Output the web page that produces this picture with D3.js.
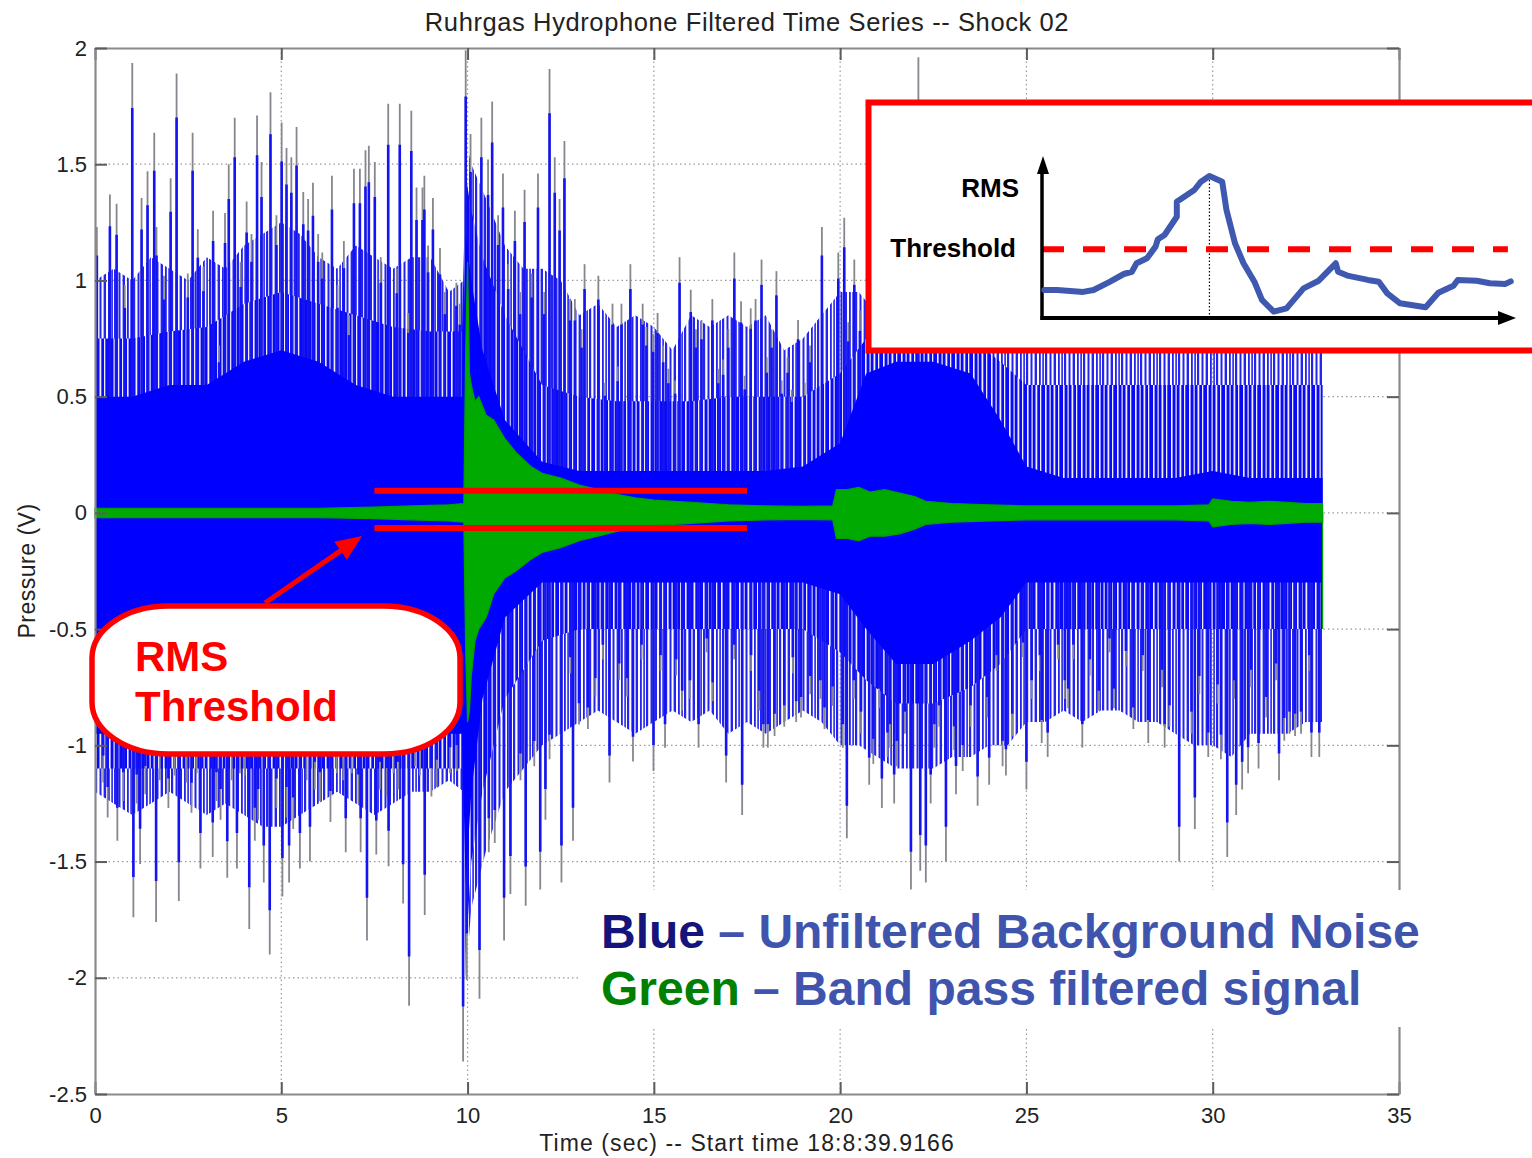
<!DOCTYPE html>
<html>
<head>
<meta charset="utf-8">
<script src="https://cdn.jsdelivr.net/npm/d3@7"></script>
<style>
  body { margin: 0; background: #fff; }
  svg { display: block; font-family: "Liberation Sans", Arial, Helvetica, sans-serif; }
</style>
</head>
<body>
<div id="chart"></div>
<script>
// ---- axis ticks ----
const xTicks = [0, 5, 10, 15, 20, 25, 30, 35];
const yTicks = [-2.5, -2, -1.5, -1, -0.5, 0, 0.5, 1, 1.5, 2];

// ---- unfiltered signal envelopes ----
const envTime = [0, 1, 2, 3, 4, 5, 6, 7, 8, 9, 9.85, 9.95, 10.1, 10.4, 11, 12, 13, 14, 15, 16, 17, 18, 19, 20, 20.7, 21.5, 22.5, 23.5, 24.3, 25, 26, 27, 28, 29, 30, 31, 32, 32.95];
const solidHi = [0.5, 0.5, 0.55, 0.55, 0.65, 0.7, 0.65, 0.55, 0.5, 0.5, 0.5, 1.2, 1.0, 0.7, 0.4, 0.22, 0.18, 0.18, 0.18, 0.18, 0.18, 0.18, 0.2, 0.3, 0.6, 0.65, 0.65, 0.6, 0.4, 0.2, 0.15, 0.15, 0.15, 0.15, 0.18, 0.15, 0.15, 0.15];
const midHi   = [0.75, 0.75, 0.78, 0.8, 0.9, 0.95, 0.9, 0.85, 0.8, 0.78, 0.78, 1.45, 1.3, 1.1, 0.85, 0.55, 0.5, 0.48, 0.48, 0.48, 0.5, 0.5, 0.5, 0.6, 0.75, 0.75, 0.75, 0.75, 0.65, 0.55, 0.55, 0.55, 0.55, 0.55, 0.55, 0.55, 0.55, 0.55];
const solidLo = [-0.95, -0.95, -0.95, -0.95, -0.95, -0.95, -0.95, -0.95, -0.95, -0.95, -0.95, -1.6, -1.2, -0.8, -0.45, -0.3, -0.3, -0.3, -0.3, -0.3, -0.3, -0.3, -0.3, -0.35, -0.5, -0.65, -0.65, -0.55, -0.45, -0.3, -0.3, -0.3, -0.3, -0.3, -0.3, -0.3, -0.3, -0.3];
const midLo   = [-1.1, -1.1, -1.1, -1.1, -1.1, -1.1, -1.1, -1.1, -1.1, -1.1, -1.1, -1.9, -1.5, -1.2, -0.8, -0.55, -0.5, -0.5, -0.5, -0.5, -0.5, -0.5, -0.5, -0.6, -0.72, -0.82, -0.82, -0.75, -0.65, -0.5, -0.5, -0.5, -0.5, -0.5, -0.5, -0.5, -0.5, -0.5];

// outer reach of the looser spike forest, every half second
const outerTime = [0, 0.5, 1, 1.5, 2, 2.5, 3, 3.5, 4, 4.5, 5, 5.5, 6, 6.5, 7, 7.5, 8, 8.5, 9, 9.5, 9.9, 9.95, 10.1, 10.5, 11, 11.5, 12, 12.5, 13, 13.5, 14, 14.5, 15, 15.5, 16, 16.5, 17, 17.5, 18, 18.5, 19, 19.5, 20, 20.5, 21, 21.5, 22, 22.5, 23, 23.5, 24, 24.5, 25, 25.5, 26, 26.5, 27, 27.5, 28, 28.5, 29, 29.5, 30, 30.5, 31, 31.5, 32, 32.5, 32.95];
const outerHi = [1.0, 1.05, 1.0, 1.1, 1.05, 1.0, 1.1, 1.05, 1.15, 1.2, 1.25, 1.2, 1.1, 1.05, 1.15, 1.1, 1.05, 1.1, 1.1, 0.95, 1.0, 1.6, 1.5, 1.35, 1.15, 1.05, 1.05, 1.0, 0.85, 0.9, 0.8, 0.85, 0.8, 0.7, 0.85, 0.8, 0.85, 0.8, 0.85, 0.7, 0.75, 0.85, 0.95, 0.95, 0.85, 0.85, 0.85, 0.85, 0.85, 0.85, 0.85, 0.85, 0.85, 0.85, 0.85, 0.85, 0.85, 0.85, 0.85, 0.85, 0.85, 0.85, 0.85, 0.85, 0.85, 0.85, 0.85, 0.85, 0.85];
const outerLo = [-1.2, -1.25, -1.3, -1.25, -1.2, -1.25, -1.3, -1.25, -1.3, -1.35, -1.35, -1.3, -1.25, -1.2, -1.25, -1.3, -1.25, -1.2, -1.2, -1.15, -1.2, -2.0, -1.7, -1.45, -1.2, -1.1, -1.0, -0.95, -0.9, -0.85, -0.9, -0.95, -0.9, -0.85, -0.9, -0.85, -0.95, -0.9, -0.95, -0.9, -0.85, -0.9, -1.0, -1.0, -1.05, -1.1, -1.1, -1.1, -1.05, -1.05, -1.0, -1.0, -0.9, -0.9, -0.85, -0.9, -0.85, -0.85, -0.9, -0.9, -0.95, -1.0, -1.0, -1.05, -0.95, -0.95, -0.95, -0.9, -0.9];

// ---- individual spikes of the unfiltered signal ----
const upSpikeTime  = [0.05, 0.4, 0.58, 0.8, 1.0, 1.25, 1.41, 1.59, 1.65, 1.85, 2.03, 2.19, 2.49, 2.62, 2.76, 2.91, 3.17, 3.33, 3.49, 3.59, 3.75, 3.91, 4.07, 4.20, 4.35, 4.47, 4.71, 4.87, 5.01, 5.14, 5.27, 5.41, 5.59, 5.72, 5.85, 5.99, 6.10, 6.36, 6.51, 6.68, 6.82, 6.95, 7.11, 7.26, 7.35, 7.51, 7.67, 7.87, 8.10, 8.18, 8.41, 8.49, 8.63, 8.79, 8.84, 8.94, 9.07, 9.26, 9.39, 9.70, 9.79, 9.95, 10.08, 10.37, 10.55, 10.66, 10.82, 10.95, 11.09, 11.27, 11.41, 11.53, 11.72, 11.89, 12.06, 12.20, 12.34, 12.47, 12.60, 12.75, 12.88, 13.06, 13.14, 13.51, 13.69, 13.89, 14.03, 14.13, 14.37, 14.70, 14.80, 14.98, 15.10, 15.25, 15.39, 15.57, 15.69, 15.99, 16.13, 16.28, 16.57, 16.73, 16.86, 17.00, 17.16, 17.34, 17.44, 17.60, 17.73, 17.89, 18.03, 18.16, 18.29, 18.43, 18.59, 18.70, 18.87, 19.05, 19.19, 19.51, 19.95, 20.11, 20.22, 20.38, 20.53, 22.10];
const upSpikeValue = [1.23, 1.37, 1.33, 0.98, 1.935, 1.355, 1.47, 1.635, 1.23, 1.02, 1.44, 1.89, 1.03, 1.635, 1.22, 1.06, 1.30, 0.72, 1.29, 1.50, 1.70, 1.08, 1.34, 1.20, 1.71, 1.51, 1.81, 1.28, 1.68, 1.57, 1.53, 1.66, 1.38, 1.35, 1.42, 1.20, 1.12, 1.45, 0.98, 1.17, 0.85, 1.48, 1.48, 1.56, 1.58, 1.51, 1.10, 1.76, 1.05, 1.76, 0.86, 1.73, 1.40, 1.40, 1.45, 1.15, 1.355, 1.14, 0.95, 0.99, 0.90, 1.99, 1.63, 1.70, 1.52, 1.77, 1.28, 1.46, 1.07, 1.30, 0.95, 1.39, 1.03, 1.46, 0.95, 1.91, 1.53, 1.35, 1.60, 0.92, 0.92, 0.79, 1.07, 1.02, 0.56, 0.90, 0.63, 0.90, 1.07, 0.90, 0.80, 0.77, 0.86, 0.72, 0.62, 0.57, 1.10, 0.96, 0.79, 0.83, 0.92, 0.62, 0.66, 0.79, 1.12, 0.91, 0.59, 0.88, 0.92, 1.09, 0.67, 0.79, 1.04, 0.57, 0.67, 0.53, 0.83, 0.56, 0.72, 1.23, 1.12, 1.27, 0.82, 1.09, 0.87, 1.96];
const downSpikeTime  = [0.22, 0.34, 0.6, 0.76, 1.03, 1.12, 1.21, 1.35, 1.64, 1.74, 1.97, 2.14, 2.25, 2.46, 2.59, 2.73, 2.83, 3.16, 3.26, 3.37, 3.55, 3.67, 3.81, 3.89, 4.02, 4.14, 4.29, 4.38, 4.53, 4.69, 4.87, 5.03, 5.14, 5.21, 5.32, 5.50, 5.68, 5.77, 5.90, 6.04, 6.32, 6.49, 6.66, 6.73, 6.89, 7.07, 7.13, 7.30, 7.55, 7.65, 7.83, 7.88, 8.01, 8.14, 8.27, 8.43, 8.59, 8.72, 8.85, 9.03, 9.17, 9.53, 9.71, 9.88, 9.98, 10.32, 10.57, 10.73, 10.98, 11.15, 11.42, 11.56, 11.79, 11.95, 12.09, 12.20, 12.52, 12.76, 12.83, 12.99, 13.23, 13.43, 13.63, 13.81, 14.07, 14.28, 14.44, 14.67, 14.99, 15.18, 15.30, 15.60, 15.76, 15.97, 16.20, 16.42, 16.58, 16.94, 17.16, 17.37, 17.61, 17.83, 17.94, 18.06, 18.24, 18.50, 18.73, 18.82, 18.95, 19.20, 19.47, 19.58, 19.80, 20.07, 20.18, 20.37, 20.56, 20.78, 20.89, 21.05, 21.12, 21.27, 21.34, 21.45, 21.52, 21.74, 21.90, 22.15, 22.30, 22.43, 22.53, 22.66, 22.84, 23.06, 23.11, 23.29, 23.50, 23.69, 23.95, 24.00, 24.20, 24.36, 24.45, 24.62, 24.91, 25.0, 25.14, 25.36, 25.41, 25.57, 25.85, 26.03, 26.12, 26.26, 26.50, 26.70, 26.94, 27.23, 27.35, 27.67, 27.87, 28.12, 28.27, 28.64, 28.71, 28.84, 29.10, 29.43, 29.52, 29.64, 29.88, 30.13, 30.22, 30.39, 30.58, 30.63, 30.79, 30.95, 31.03, 31.23, 31.44, 31.70, 31.78, 31.92, 32.06, 32.21, 32.37, 32.59, 32.65, 32.86];
const downSpikeValue = [-1.16, -1.31, -1.41, -1.24, -1.74, -1.25, -1.51, -1.21, -1.76, -1.15, -1.27, -1.13, -1.67, -1.16, -1.29, -1.12, -1.53, -1.48, -1.24, -1.32, -1.57, -1.15, -1.53, -1.12, -1.13, -1.79, -1.41, -1.32, -1.59, -1.90, -1.27, -1.65, -1.31, -1.59, -1.36, -1.53, -1.15, -1.50, -1.19, -1.24, -1.33, -1.12, -1.15, -1.46, -1.12, -1.25, -1.46, -1.84, -1.47, -1.19, -1.22, -1.52, -1.12, -1.19, -1.68, -2.12, -1.09, -1.13, -1.73, -1.22, -1.18, -1.12, -1.11, -2.36, -2.01, -2.09, -1.46, -1.42, -1.84, -1.64, -1.15, -1.69, -1.09, -1.62, -1.32, -1.06, -1.59, -0.69, -1.41, -0.91, -0.93, -0.79, -0.63, -1.16, -0.72, -0.79, -1.07, -0.63, -1.11, -0.68, -1.01, -0.70, -0.85, -0.80, -1.01, -0.60, -0.81, -1.16, -0.63, -1.30, -0.68, -0.85, -1.01, -1.01, -0.96, -0.92, -0.69, -0.90, -0.88, -0.78, -0.80, -0.93, -0.83, -1.01, -1.40, -0.80, -0.95, -1.17, -1.08, -0.84, -1.27, -1.05, -1.01, -1.25, -1.09, -0.95, -1.62, -1.54, -1.59, -1.25, -1.01, -0.92, -1.50, -1.02, -1.21, -1.11, -0.92, -1.26, -0.88, -1.17, -0.68, -1.09, -1.13, -0.96, -0.62, -1.19, -0.80, -0.68, -0.99, -1.05, -0.63, -0.80, -0.84, -0.63, -1.01, -0.70, -0.85, -0.60, -0.84, -0.66, -0.93, -0.68, -0.99, -0.75, -1.01, -0.92, -1.50, -0.95, -1.36, -0.78, -1.05, -0.82, -1.06, -1.48, -0.80, -1.30, -1.19, -1.12, -0.75, -1.10, -0.88, -0.72, -1.15, -0.98, -0.95, -0.96, -0.95, -0.68, -1.05, -1.05];

// ---- band pass filtered signal envelope ----
const greenTime = [0, 2, 4, 6, 7.5, 8.5, 9.5, 9.9, 9.95, 10.0, 10.05, 10.1, 10.2, 10.3, 10.5, 10.7, 11.0, 11.3, 11.7, 12.0, 12.5, 13.0, 13.5, 14.0, 14.5, 15, 16, 17, 18, 19, 19.8, 19.9, 20.2, 20.5, 20.8, 21.2, 21.6, 22.0, 22.3, 23, 24, 25, 26, 27, 28, 29, 29.9, 30.0, 30.5, 31, 31.5, 32, 32.5, 32.95];
const greenHi   = [0.02, 0.02, 0.02, 0.02, 0.025, 0.03, 0.035, 0.04, 0.7, 1.08, 0.6, 0.55, 0.48, 0.5, 0.42, 0.4, 0.32, 0.26, 0.2, 0.17, 0.15, 0.12, 0.1, 0.08, 0.065, 0.055, 0.045, 0.035, 0.03, 0.028, 0.03, 0.1, 0.1, 0.11, 0.09, 0.1, 0.085, 0.07, 0.05, 0.04, 0.035, 0.03, 0.03, 0.03, 0.03, 0.03, 0.035, 0.06, 0.05, 0.045, 0.05, 0.045, 0.04, 0.04];
const greenLo   = [-0.02, -0.02, -0.02, -0.02, -0.025, -0.03, -0.035, -0.04, -0.6, -0.9, -0.85, -0.7, -0.55, -0.5, -0.45, -0.35, -0.28, -0.25, -0.2, -0.17, -0.15, -0.12, -0.1, -0.08, -0.065, -0.055, -0.045, -0.035, -0.03, -0.028, -0.03, -0.11, -0.11, -0.12, -0.1, -0.1, -0.09, -0.07, -0.05, -0.04, -0.035, -0.03, -0.03, -0.03, -0.03, -0.03, -0.035, -0.06, -0.05, -0.045, -0.05, -0.045, -0.04, -0.04];
const greenTailTime = 32.95;
const greenTailValue = -0.5;

// ---- RMS threshold marks ----
const thresholdHi = 0.095;
const thresholdLo = -0.065;
const thresholdStart = 7.5;
const thresholdEnd = 17.5;

// ---- inset: sketch of RMS curve ----
const rmsX = [0.5, 3.2, 8.7, 10.9, 14.1, 17.3, 19.0, 20.0, 22.2, 24.0, 24.5, 25.9, 28.5, 28.5, 32.2, 33.6, 35.4, 38.1, 39.0, 40.8, 42.6, 44.9, 46.5, 49.0, 51.7, 55.3, 58.5, 62.1, 62.6, 64.8, 68.9, 71.2, 73.0, 75.7, 81.1, 83.8, 87.0, 87.9, 91.9, 94.7, 97.9, 99.1];
const rmsY = [0.175, 0.175, 0.163, 0.175, 0.223, 0.275, 0.289, 0.342, 0.373, 0.446, 0.492, 0.519, 0.633, 0.727, 0.8, 0.852, 0.888, 0.852, 0.675, 0.467, 0.342, 0.227, 0.113, 0.04, 0.06, 0.185, 0.233, 0.342, 0.289, 0.263, 0.238, 0.227, 0.154, 0.092, 0.067, 0.158, 0.202, 0.238, 0.233, 0.217, 0.213, 0.229];
const rmsThreshold = 0.43;
const rmsPeakX = 35.4;

// ---- texts ----
const titleText = 'Ruhrgas Hydrophone Filtered Time Series -- Shock 02';
const xLabelText = 'Time (sec) -- Start time 18:8:39.9166';
const yLabelText = 'Pressure (V)';

const W = 1532, H = 1158;
const plot = { left: 95, right: 1399, top: 48, bottom: 1094 };

const svg = d3.select('#chart').append('svg').attr('width', W).attr('height', H);

const x = d3.scaleLinear().domain([0, 35]).range([plot.left, plot.right]);
const y = d3.scaleLinear().domain([-2.5, 2]).range([plot.bottom, plot.top]);

// textures for the dense trace: close stripes near the core, looser ones further out
const defs = svg.append('defs');
const dense = defs.append('pattern').attr('id', 'dense').attr('patternUnits', 'userSpaceOnUse')
  .attr('width', 18).attr('height', 10);
dense.append('rect').attr('width', 18).attr('height', 10).attr('fill', '#0a0af8');
[[1, 1.6], [5.5, 1.2], [9.5, 1.8], [14, 1.3]].forEach(([px, pw]) => {
  dense.append('rect').attr('x', px).attr('width', pw).attr('height', 10).attr('fill', '#eeeefc');
});
const loose = defs.append('pattern').attr('id', 'loose').attr('patternUnits', 'userSpaceOnUse')
  .attr('width', 19).attr('height', 10);
[[0, 2.2], [4.5, 2], [8.6, 2.4], [13, 1.8], [16.3, 1.6]].forEach(([px, pw]) => {
  loose.append('rect').attr('x', px).attr('width', pw).attr('height', 10).attr('fill', '#2424ee');
});

// grid
const gridColor = '#9a9a9a';
svg.append('g')
  .call(g => g.selectAll('line.gx').data(xTicks.slice(1, -1)).join('line').attr('class', 'gx')
    .attr('x1', d => x(d)).attr('x2', d => x(d)).attr('y1', plot.top).attr('y2', plot.bottom))
  .call(g => g.selectAll('line.gy').data(yTicks.slice(1, -1)).join('line').attr('class', 'gy')
    .attr('y1', d => y(d)).attr('y2', d => y(d)).attr('x1', plot.left).attr('x2', plot.right))
  .selectAll('line').attr('stroke', gridColor).attr('stroke-width', 1.2).attr('stroke-dasharray', '1.5,3');

// unfiltered signal
const outer = outerTime.map((t, i) => ({ t, hi: outerHi[i], lo: outerLo[i] }));
svg.append('path').datum(outer)
  .attr('d', d3.area().x(d => x(d.t)).y0(d => y(d.lo)).y1(d => y(d.hi)))
  .attr('fill', 'url(#loose)');

const env = envTime.map((t, i) => ({ t, sh: solidHi[i], mh: midHi[i], sl: solidLo[i], ml: midLo[i] }));
svg.append('path').datum(env)
  .attr('d', d3.area().x(d => x(d.t)).y0(d => y(d.ml)).y1(d => y(d.mh)))
  .attr('fill', 'url(#dense)');

const spikes = upSpikeTime.map((t, i) => ({ t, v: upSpikeValue[i] }))
  .concat(downSpikeTime.map((t, i) => ({ t, v: downSpikeValue[i] })));
const sg = svg.append('g');
sg.selectAll('line.tip').data(spikes).join('line').attr('class', 'tip')
  .attr('x1', d => x(d.t)).attr('x2', d => x(d.t)).attr('y1', y(0)).attr('y2', d => y(d.v))
  .attr('stroke', '#86868f').attr('stroke-width', 1.8);
sg.selectAll('line.body').data(spikes).join('line').attr('class', 'body')
  .attr('x1', d => x(d.t)).attr('x2', d => x(d.t)).attr('y1', y(0)).attr('y2', d => y(d.v * 0.9))
  .attr('stroke', '#1414f2').attr('stroke-width', 2.6);

svg.append('path').datum(env)
  .attr('d', d3.area().x(d => x(d.t)).y0(d => y(d.sl)).y1(d => y(d.sh)))
  .attr('fill', '#0000ff');

// filtered signal
const green = greenTime.map((t, i) => ({ t, hi: greenHi[i], lo: greenLo[i] }));
svg.append('path').datum(green)
  .attr('d', d3.area().x(d => x(d.t)).y0(d => y(d.lo)).y1(d => y(d.hi)))
  .attr('fill', '#00aa00').attr('stroke', '#00a000').attr('stroke-width', 1.2);
svg.append('line').attr('x1', x(greenTailTime)).attr('x2', x(greenTailTime))
  .attr('y1', y(0)).attr('y2', y(greenTailValue)).attr('stroke', '#00a000').attr('stroke-width', 1.2);

// axes box
const axisColor = '#8a8a8a', tickColor = '#5c5c5c';
function styleAxis(g, labels) {
  g.select('.domain').attr('stroke', axisColor).attr('stroke-width', 2.2);
  g.selectAll('.tick line').attr('stroke', tickColor).attr('stroke-width', 2);
  if (labels) g.selectAll('.tick text').attr('fill', '#222').attr('font-size', '22px')
    .attr('font-family', '"Liberation Sans", Arial, sans-serif');
  else g.selectAll('.tick text').remove();
}
svg.append('g').attr('transform', `translate(0,${plot.bottom})`)
  .call(d3.axisBottom(x).tickValues(xTicks).tickSize(-12).tickSizeOuter(0).tickPadding(13).tickFormat(d3.format('d')))
  .call(g => styleAxis(g, true));
svg.append('g').attr('transform', `translate(0,${plot.top})`)
  .call(d3.axisTop(x).tickValues(xTicks).tickSize(-12).tickSizeOuter(0))
  .call(g => styleAxis(g, false));
svg.append('g').attr('transform', `translate(${plot.left},0)`)
  .call(d3.axisLeft(y).tickValues(yTicks).tickSize(-12).tickSizeOuter(0).tickPadding(8).tickFormat(d => String(d)))
  .call(g => styleAxis(g, true));
svg.append('g').attr('transform', `translate(${plot.right},0)`)
  .call(d3.axisRight(y).tickValues(yTicks).tickSize(-12).tickSizeOuter(0))
  .call(g => styleAxis(g, false));

// titles
svg.append('text').attr('x', (plot.left + plot.right) / 2).attr('y', 31).attr('text-anchor', 'middle')
  .attr('font-size', '25.5px').attr('letter-spacing', '0.6px').attr('fill', '#222').text(titleText);
svg.append('text').attr('x', (plot.left + plot.right) / 2).attr('y', 1151).attr('text-anchor', 'middle')
  .attr('font-size', '23px').attr('letter-spacing', '1.1px').attr('fill', '#222').text(xLabelText);
svg.append('text').attr('transform', `translate(35,${(plot.top + plot.bottom) / 2}) rotate(-90)`)
  .attr('text-anchor', 'middle').attr('font-size', '23px').attr('letter-spacing', '0.5px')
  .attr('fill', '#222').text(yLabelText);

// RMS threshold lines
const red = '#ff0000';
[thresholdHi, thresholdLo].forEach(v => {
  svg.append('line').attr('x1', x(thresholdStart)).attr('x2', x(thresholdEnd))
    .attr('y1', y(v)).attr('y2', y(v)).attr('stroke', red).attr('stroke-width', 6);
});

// arrow from callout to threshold
const a0 = [265, 603], a1 = [362, 536];
{
  const dx = a1[0] - a0[0], dy = a1[1] - a0[1], L = Math.hypot(dx, dy);
  const ux = dx / L, uy = dy / L, hl = 26, hw = 11;
  const bx = a1[0] - ux * hl, by = a1[1] - uy * hl;
  svg.append('line').attr('x1', a0[0]).attr('y1', a0[1]).attr('x2', bx + ux * 2).attr('y2', by + uy * 2)
    .attr('stroke', red).attr('stroke-width', 5);
  svg.append('path').attr('fill', red)
    .attr('d', `M${a1[0]},${a1[1]}L${bx - uy * hw},${by + ux * hw}L${bx + uy * hw},${by - ux * hw}Z`);
}

// callout bubble
svg.append('rect').attr('x', 92).attr('y', 606).attr('width', 368).attr('height', 148)
  .attr('rx', 76).attr('ry', 52).attr('fill', '#fff').attr('stroke', red).attr('stroke-width', 5.5);
svg.append('text').attr('x', 135).attr('y', 671).attr('font-size', '42px').attr('font-weight', 'bold')
  .attr('fill', red).text('RMS');
svg.append('text').attr('x', 135).attr('y', 721).attr('font-size', '42px').attr('font-weight', 'bold')
  .attr('fill', red).text('Threshold');

// inset
svg.append('rect').attr('x', 868.5).attr('y', 102.5).attr('width', 720).attr('height', 248)
  .attr('fill', '#fff').attr('stroke', red).attr('stroke-width', 6);
const ix = d3.scaleLinear().domain([0, 100]).range([1042, 1515]);
const iy = d3.scaleLinear().domain([0, 1]).range([318, 158]);
const inset = svg.append('g');
inset.append('line').attr('x1', ix(rmsPeakX)).attr('x2', ix(rmsPeakX)).attr('y1', iy(0)).attr('y2', iy(0.888))
  .attr('stroke', '#000').attr('stroke-width', 1.2).attr('stroke-dasharray', '1.5,2');
inset.append('line').attr('x1', ix(0)).attr('x2', ix(98.5)).attr('y1', iy(rmsThreshold)).attr('y2', iy(rmsThreshold))
  .attr('stroke', red).attr('stroke-width', 6).attr('stroke-dasharray', '22,19');
inset.append('line').attr('x1', ix(0)).attr('x2', ix(0)).attr('y1', iy(0) + 2).attr('y2', iy(1) + 14)
  .attr('stroke', '#000').attr('stroke-width', 3.5);
inset.append('path').attr('fill', '#000')
  .attr('d', `M${ix(0) + 1},${iy(1) - 2}L${ix(0) + 7},${iy(1) + 16}L${ix(0) - 5},${iy(1) + 16}Z`);
inset.append('line').attr('x1', ix(0) - 1.5).attr('x2', ix(100) - 14).attr('y1', iy(0)).attr('y2', iy(0))
  .attr('stroke', '#000').attr('stroke-width', 4);
inset.append('path').attr('fill', '#000')
  .attr('d', `M${ix(100) + 1},${iy(0)}L${ix(100) - 17},${iy(0) - 7}L${ix(100) - 17},${iy(0) + 7}Z`);
inset.append('path').datum(rmsX.map((v, i) => [v, rmsY[i]]))
  .attr('d', d3.line().x(d => ix(d[0])).y(d => iy(d[1])))
  .attr('fill', 'none').attr('stroke', '#3f58b0').attr('stroke-width', 6)
  .attr('stroke-linejoin', 'round').attr('stroke-linecap', 'round');
inset.append('text').attr('x', 1019).attr('y', 197).attr('text-anchor', 'end')
  .attr('font-size', '26px').attr('font-weight', 'bold').attr('fill', '#000').text('RMS');
inset.append('text').attr('x', 1016).attr('y', 257).attr('text-anchor', 'end')
  .attr('font-size', '26px').attr('font-weight', 'bold').attr('fill', '#000').text('Threshold');

// legend text on white patch
svg.append('rect').attr('x', 578).attr('y', 890).attr('width', 850).attr('height', 137).attr('fill', '#fff');
const lg = svg.append('g').attr('font-size', '48px').attr('font-weight', 'bold');
const l1 = lg.append('text').attr('x', 601).attr('y', 948);
l1.append('tspan').attr('fill', '#14147a').text('Blue');
l1.append('tspan').attr('fill', '#3f55ad').text(' \u2013 Unfiltered Background Noise');
const l2 = lg.append('text').attr('x', 601).attr('y', 1005);
l2.append('tspan').attr('fill', '#008000').text('Green');
l2.append('tspan').attr('fill', '#3f55ad').text(' \u2013 Band pass filtered signal');
</script>
</body>
</html>
